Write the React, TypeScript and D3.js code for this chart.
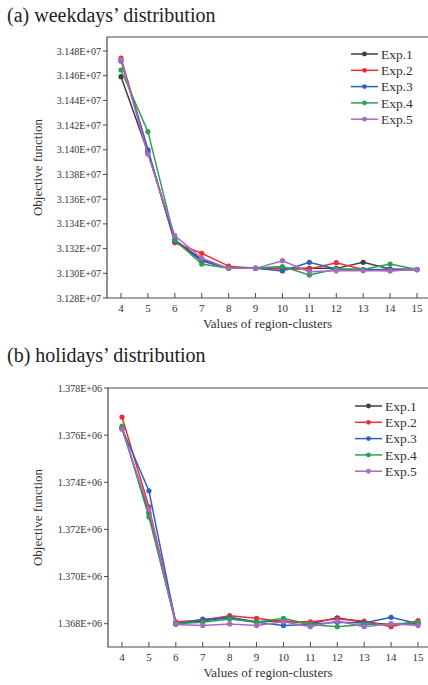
import React from "react";
import * as d3 from "d3";

const clusters = [4, 5, 6, 7, 8, 9, 10, 11, 12, 13, 14, 15];
const seriesNames = ["Exp.1", "Exp.2", "Exp.3", "Exp.4", "Exp.5"];
const seriesColors = ["#3f3f3f", "#ec2f36", "#2f5fc2", "#2e9f52", "#a66bc0"];

// weekdays (values in units of 1E+07)
const wk1 = [3.14592, 3.1398, 3.1327, 3.1311, 3.1304, 3.1304, 3.1304, 3.1304, 3.1304, 3.13089, 3.13035, 3.1303];
const wk2 = [3.14743, 3.14, 3.13248, 3.13162, 3.13058, 3.1304, 3.13034, 3.13035, 3.13086, 3.1303, 3.1302, 3.1303];
const wk3 = [3.1472, 3.13998, 3.1326, 3.131, 3.1304, 3.1304, 3.13019, 3.13089, 3.13035, 3.1303, 3.1303, 3.1303];
const wk4 = [3.14646, 3.14147, 3.1327, 3.13075, 3.1304, 3.13042, 3.13054, 3.12986, 3.13035, 3.1303, 3.13075, 3.1303];
const wk5 = [3.1473, 3.13964, 3.13305, 3.13122, 3.1304, 3.1304, 3.13102, 3.13013, 3.1302, 3.1302, 3.1302, 3.1303];
const wkTicks = [3.128, 3.13, 3.132, 3.134, 3.136, 3.138, 3.14, 3.142, 3.144, 3.146, 3.148];

// holidays (values in units of 1E+06)
const hd1 = [1.3763, 1.3727, 1.368, 1.36812, 1.36826, 1.36808, 1.36813, 1.368, 1.36825, 1.36805, 1.36797, 1.368];
const hd2 = [1.37677, 1.37296, 1.36808, 1.36815, 1.36834, 1.36823, 1.36808, 1.36808, 1.3682, 1.36811, 1.36787, 1.36813];
const hd3 = [1.37628, 1.37364, 1.368, 1.36819, 1.36826, 1.36806, 1.36792, 1.36797, 1.36806, 1.36803, 1.36827, 1.368];
const hd4 = [1.37638, 1.37253, 1.368, 1.36806, 1.3682, 1.36806, 1.36823, 1.36797, 1.36787, 1.36797, 1.36798, 1.36806];
const hd5 = [1.37625, 1.37285, 1.36797, 1.36792, 1.36799, 1.36792, 1.36808, 1.36787, 1.36811, 1.36787, 1.368, 1.36792];
const hdTicks = [1.368, 1.37, 1.372, 1.374, 1.376, 1.378];

const FONT = "'Liberation Serif', 'Times New Roman', serif";
const TXT = "#333";
const AX = "#4a4a4a";

type PanelProps = {
  title: string;
  titleY: number;
  series: number[][];
  ticks: number[];
  exp: string;
  left: number;
  right: number;
  top: number;
  bottom: number;
  x4: number;
  x15: number;
  yTickLo: number;
  yTickHi: number;
  yTickLoPx: number;
  yTickHiPx: number;
  legendX: number;
  legendY: number;
};

function Panel(p: PanelProps) {
  const x = d3.scaleLinear().domain([4, 15]).range([p.x4, p.x15]);
  const y = d3.scaleLinear().domain([p.yTickLo, p.yTickHi]).range([p.yTickLoPx, p.yTickHiPx]);
  const line = d3
    .line<number>()
    .x((_, i) => x(clusters[i]))
    .y((d) => y(d));
  const midY = (p.top + p.bottom) / 2;
  return (
    <g>
      <text x={7} y={p.titleY} fontFamily={FONT} fontSize={20} fill="#222">
        {p.title}
      </text>
      {/* frame */}
      <path
        d={`M${p.right},${p.top}H${p.left}V${p.bottom}H${p.right}`}
        fill="none"
        stroke={AX}
        strokeWidth={1.2}
      />
      {/* y ticks */}
      {p.ticks.map((t) => (
        <g key={t}>
          <line x1={p.left - 4} x2={p.left} y1={y(t)} y2={y(t)} stroke={AX} strokeWidth={1} />
          <text
            x={p.left - 6}
            y={y(t)}
            dy="0.35em"
            textAnchor="end"
            fontFamily={FONT}
            fontSize={10}
            fill={TXT}
          >
            {t.toFixed(3) + "E+" + p.exp}
          </text>
        </g>
      ))}
      {/* x ticks */}
      {clusters.map((c) => (
        <g key={c}>
          <line x1={x(c)} x2={x(c)} y1={p.bottom} y2={p.bottom - 5} stroke={AX} strokeWidth={1} />
          <text
            x={x(c)}
            y={p.bottom + 14}
            textAnchor="middle"
            fontFamily={FONT}
            fontSize={11}
            fill={TXT}
          >
            {c}
          </text>
        </g>
      ))}
      <text
        x={(p.left + 428) / 2}
        y={p.bottom + 30}
        textAnchor="middle"
        fontFamily={FONT}
        fontSize={13}
        fill={TXT}
      >
        Values of region-clusters
      </text>
      <text
        transform={`translate(${37},${midY}) rotate(-90)`}
        textAnchor="middle"
        dy="0.35em"
        fontFamily={FONT}
        fontSize={13}
        fill={TXT}
      >
        Objective function
      </text>
      {/* series */}
      {p.series.map((s, si) => (
        <g key={si}>
          <path d={line(s) || ""} fill="none" stroke={seriesColors[si]} strokeWidth={1.5} />
          {s.map((v, i) => (
            <circle key={i} cx={x(clusters[i])} cy={y(v)} r={2.6} fill={seriesColors[si]} />
          ))}
        </g>
      ))}
      {/* legend */}
      {seriesNames.map((n, i) => {
        const ly = p.legendY + i * 16.3;
        return (
          <g key={n}>
            <line x1={p.legendX} x2={p.legendX + 27} y1={ly} y2={ly} stroke={seriesColors[i]} strokeWidth={1.5} />
            <circle cx={p.legendX + 13.5} cy={ly} r={2.4} fill={seriesColors[i]} />
            <text
              x={p.legendX + 30}
              y={ly}
              dy="0.35em"
              fontFamily={FONT}
              fontSize={13.5}
              fill={TXT}
            >
              {n}
            </text>
          </g>
        );
      })}
    </g>
  );
}

export default function App() {
  return (
    <svg
      width={428}
      height={685}
      style={{ position: "absolute", left: 0, top: 0, background: "#fff" }}
    >
      <Panel
        title="(a) weekdays’ distribution"
        titleY={22}
        series={[wk1, wk2, wk3, wk4, wk5]}
        ticks={wkTicks}
        exp="07"
        left={107}
        right={432}
        top={37}
        bottom={298}
        x4={121}
        x15={417}
        yTickLo={3.128}
        yTickHi={3.148}
        yTickLoPx={298}
        yTickHiPx={51}
        legendX={351}
        legendY={54}
      />
      <Panel
        title="(b) holidays’ distribution"
        titleY={362}
        series={[hd1, hd2, hd3, hd4, hd5]}
        ticks={hdTicks}
        exp="06"
        left={108}
        right={432}
        top={388}
        bottom={647}
        x4={122}
        x15={418}
        yTickLo={1.368}
        yTickHi={1.378}
        yTickLoPx={623.7}
        yTickHiPx={388}
        legendX={355}
        legendY={406}
      />
    </svg>
  );
}
